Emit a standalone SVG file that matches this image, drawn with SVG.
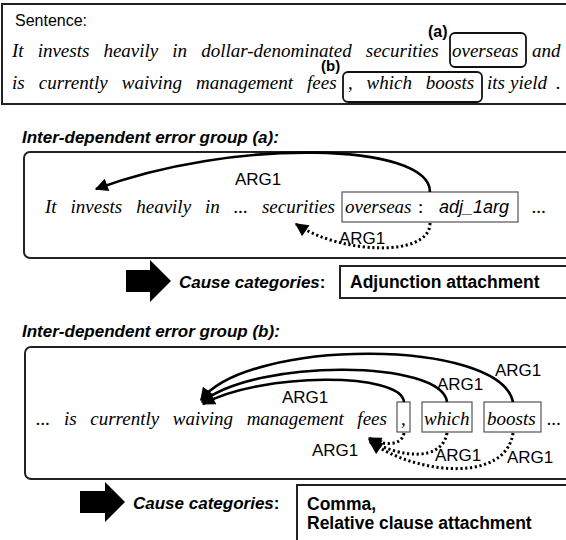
<svg xmlns="http://www.w3.org/2000/svg" width="566" height="540" viewBox="0 0 566 540">
  <style>
    .ser { font-family: "Liberation Serif", "Times New Roman", serif; font-style: italic; font-size: 19px; fill: #000; }
    .sans { font-family: "Liberation Sans", Arial, sans-serif; font-size: 17px; fill: #000; }
    .bold { font-weight: bold; }
    .bi { font-weight: bold; font-style: italic; }
    .frame { fill: #fff; stroke: #222; stroke-width: 2; }
    .mark { fill: none; stroke: #111; stroke-width: 1.8; }
    .word { fill: none; stroke: #444; stroke-width: 1.1; }
    .arc { fill: none; stroke: #000; stroke-width: 2.6; }
    .dot { fill: none; stroke: #000; stroke-width: 3; stroke-dasharray: 2.2 2.6; }
    .block { fill: #000; }
  </style>
  <defs>
    <marker id="head" viewBox="0 0 10 10" refX="9" refY="5" markerWidth="6" markerHeight="5" markerUnits="strokeWidth" orient="auto">
      <path d="M0,0 L10,5 L0,10 z" fill="#000"/>
    </marker>
    <marker id="headDot" viewBox="0 0 10 10" refX="9" refY="5" markerWidth="5.2" markerHeight="4.4" markerUnits="strokeWidth" orient="auto">
      <path d="M0,0 L10,5 L0,10 z" fill="#000"/>
    </marker>
  </defs>

  <rect width="566" height="540" fill="#fff"/>

  <!-- Sentence panel -->
  <g id="sentence">
    <rect class="frame" x="2" y="4" width="572" height="100"/>
    <text class="sans" x="15" y="26" style="font-size:16px">Sentence:</text>
    <text class="ser" x="12" y="57" word-spacing="9.3">It invests heavily in dollar-denominated securities</text>
    <text class="ser" x="452" y="57">overseas</text>
    <text class="ser" x="532" y="57">and</text>
    <rect class="mark" x="450" y="33" width="76" height="34" rx="5"/>
    <text class="sans bold" x="428" y="37" style="font-size:16px">(a)</text>
    <text class="ser" x="12" y="89" word-spacing="9.3">is currently waiving management fees</text>
    <text class="ser" x="348" y="89" word-spacing="9">, which boosts</text>
    <rect class="mark" x="343" y="72" width="139" height="30" rx="5"/>
    <text class="sans bold" x="321" y="71" style="font-size:15px">(b)</text>
    <text class="ser" x="487" y="89">its</text>
    <text class="ser" x="510" y="89">yield</text>
    <text class="ser" x="556" y="89">.</text>
  </g>

  <!-- Group (a) -->
  <text class="sans bi" x="22" y="143">Inter-dependent error group (a):</text>
  <g id="group-a">
    <rect class="frame" x="24" y="152" width="560" height="106" rx="6"/>
    <text class="ser" x="45" y="213" word-spacing="9.2">It invests heavily in ... securities</text>
    <rect class="word" x="342" y="192" width="176" height="30"/>
    <text class="ser" x="345" y="213">overseas</text>
    <text x="418" y="213" style="font-family:'Liberation Serif',serif;font-size:19px">:</text>
    <text class="sans" x="439" y="213" style="font-style:italic;font-size:18px">adj_1arg</text>
    <text class="ser" x="532" y="213">...</text>
  </g>
  <g id="cause-a">
    <path class="block" d="M126,270 L150,270 L150,260 L171,281 L150,302 L150,292 L126,292 z"/>
    <text class="sans" x="179" y="288"><tspan class="bi">Cause categories</tspan><tspan class="bold">:</tspan></text>
    <rect class="frame" x="340" y="266" width="240" height="32"/>
    <text class="sans bold" x="350" y="288" style="font-size:17.5px">Adjunction attachment</text>
  </g>

  <!-- Group (b) -->
  <text class="sans bi" x="22" y="337">Inter-dependent error group (b):</text>
  <g id="group-b">
    <rect class="frame" x="25" y="347" width="560" height="132" rx="6"/>
    <text class="ser" x="36" y="425" word-spacing="8.9">... is currently waiving management fees</text>
    <rect class="word" x="397" y="402" width="13" height="30"/>
    <text class="ser" x="401" y="425">,</text>
    <rect class="word" x="422" y="402" width="50" height="30"/>
    <text class="ser" x="424" y="425">which</text>
    <rect class="word" x="484" y="402" width="57" height="30"/>
    <text class="ser" x="487" y="425">boosts</text>
    <text class="ser" x="547" y="425">...</text>
  </g>
  <g id="cause-b">
    <path class="block" d="M80,491 L105,491 L105,482 L125,502 L105,522 L105,513 L80,513 z"/>
    <text class="sans" x="133" y="509"><tspan class="bi">Cause categories</tspan><tspan class="bold">:</tspan></text>
    <rect class="frame" x="297" y="485" width="290" height="70"/>
    <text class="sans bold" x="307" y="510" style="font-size:17.5px">Comma,</text>
    <text class="sans bold" x="307" y="529" style="font-size:17.5px">Relative clause attachment</text>
  </g>

  <!-- Connectors -->
  <g id="connectors">
    <path class="arc" d="M430,192 C430,142 232,138 96,189" marker-end="url(#head)"/>
    <text class="sans" x="235" y="185">ARG1</text>
    <path class="dot" d="M430,223 C430,258 340,254 296,224" marker-end="url(#headDot)"/>
    <text class="sans" x="339" y="244">ARG1</text>

    <path class="arc" d="M404,402 C402,372 262,372 203,404" marker-end="url(#head)"/>
    <path class="arc" d="M447,402 C442,360 258,358 202,402" marker-end="url(#head)"/>
    <path class="arc" d="M513,402 C500,338 248,338 201,400" marker-end="url(#head)"/>
    <text class="sans" x="282" y="403">ARG1</text>
    <text class="sans" x="437" y="390">ARG1</text>
    <text class="sans" x="495" y="376">ARG1</text>

    <path class="dot" d="M404,433 C402,446 384,446 369,438" marker-end="url(#headDot)"/>
    <path class="dot" d="M447,433 C442,462 400,458 369,440" marker-end="url(#headDot)"/>
    <path class="dot" d="M513,433 C506,482 420,476 370,442" marker-end="url(#headDot)"/>
    <text class="sans" x="312" y="456">ARG1</text>
    <text class="sans" x="435" y="461">ARG1</text>
    <text class="sans" x="507" y="463">ARG1</text>
  </g>
</svg>
